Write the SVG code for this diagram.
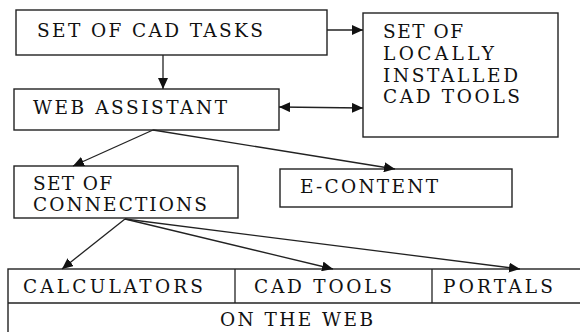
<svg xmlns="http://www.w3.org/2000/svg" width="580" height="332" viewBox="0 0 580 332">
<defs>
<style>
.box{fill:#fff;stroke:#222;stroke-width:1.4}
.ln{fill:none;stroke:#222;stroke-width:1.3}
.t{font-family:"DejaVu Serif","Liberation Serif",serif;font-size:18.5px;fill:#111}
</style>
<marker id="ah" markerUnits="userSpaceOnUse" markerWidth="12" markerHeight="10" refX="11" refY="5" orient="auto">
<path d="M0,0 L11,5 L0,10 Z" fill="#111"/>
</marker>
<marker id="as" markerUnits="userSpaceOnUse" markerWidth="12" markerHeight="10" refX="1" refY="5" orient="auto">
<path d="M12,0 L1,5 L12,10 Z" fill="#111"/>
</marker>
</defs>
<rect width="580" height="332" fill="#fff"/>
<g id="cad-tasks">
<rect class="box" x="16" y="10" width="311" height="45"/>
<text class="t" x="37" y="37" textLength="226" lengthAdjust="spacing">SET OF CAD TASKS</text>
</g>
<g id="local-tools">
<rect class="box" x="363" y="13" width="195" height="124"/>
<text class="t" x="383" y="38" textLength="80" lengthAdjust="spacing">SET OF</text>
<text class="t" x="383" y="60" textLength="111" lengthAdjust="spacing">LOCALLY</text>
<text class="t" x="383" y="82" textLength="135" lengthAdjust="spacing">INSTALLED</text>
<text class="t" x="383" y="103" textLength="137" lengthAdjust="spacing">CAD TOOLS</text>
</g>
<g id="web-assistant">
<rect class="box" x="14" y="89" width="265" height="41"/>
<text class="t" x="33" y="114" textLength="194" lengthAdjust="spacing">WEB ASSISTANT</text>
</g>
<g id="connections">
<rect class="box" x="14" y="166" width="224" height="52"/>
<text class="t" x="33" y="190" textLength="79" lengthAdjust="spacing">SET OF</text>
<text class="t" x="33" y="211" textLength="174" lengthAdjust="spacing">CONNECTIONS</text>
</g>
<g id="e-content">
<rect class="box" x="280" y="169" width="232" height="38"/>
<text class="t" x="300" y="193" textLength="138" lengthAdjust="spacing">E-CONTENT</text>
</g>
<g id="on-the-web">
<rect class="box" x="8" y="269" width="580" height="70"/>
<line class="ln" x1="8" y1="303" x2="580" y2="303"/>
<line class="ln" x1="235" y1="269" x2="235" y2="303"/>
<line class="ln" x1="432" y1="269" x2="432" y2="303"/>
<text class="t" x="23" y="293" textLength="180" lengthAdjust="spacing">CALCULATORS</text>
<text class="t" x="254" y="293" textLength="138" lengthAdjust="spacing">CAD TOOLS</text>
<text class="t" x="443" y="293" textLength="110" lengthAdjust="spacing">PORTALS</text>
<text class="t" x="220" y="326" textLength="153" lengthAdjust="spacing">ON THE WEB</text>
</g>
<g id="connectors">
<line class="ln" x1="327" y1="30" x2="363" y2="30" marker-end="url(#ah)"/>
<line class="ln" x1="163" y1="55" x2="163" y2="89" marker-end="url(#ah)"/>
<line class="ln" x1="279" y1="107" x2="363" y2="108" marker-start="url(#as)" marker-end="url(#ah)"/>
<line class="ln" x1="153" y1="130" x2="73" y2="166" marker-end="url(#ah)"/>
<line class="ln" x1="153" y1="130" x2="395" y2="169" marker-end="url(#ah)"/>
<line class="ln" x1="125" y1="219" x2="62" y2="269" marker-end="url(#ah)"/>
<line class="ln" x1="125" y1="219" x2="333" y2="269" marker-end="url(#ah)"/>
<line class="ln" x1="125" y1="219" x2="520" y2="269" marker-end="url(#ah)"/>
</g>
</svg>
